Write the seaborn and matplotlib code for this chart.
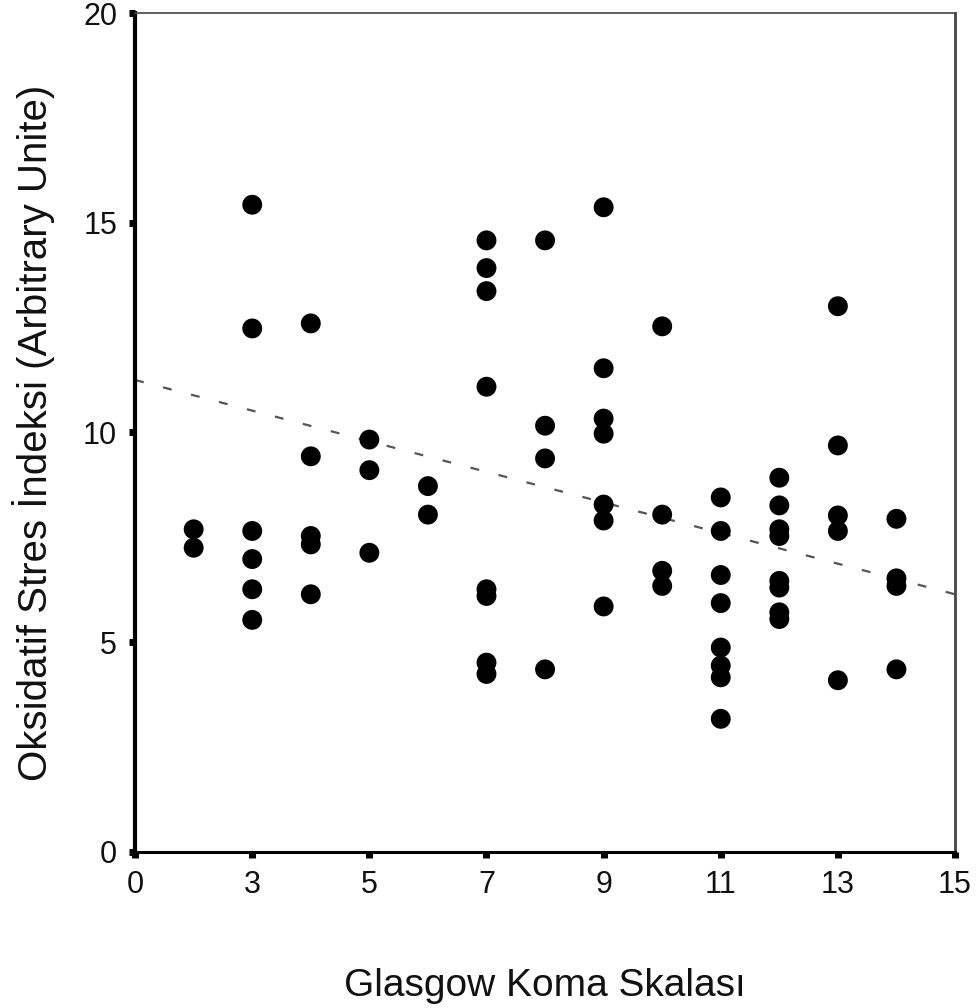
import numpy as np
import pandas as pd
import matplotlib
matplotlib.use('Agg')
import matplotlib.pyplot as plt
import seaborn as sns

# axis position of each patient's column (axis ticks are relabelled below)
gks = ([1] * 2 + [2] * 6 + [3] * 5 + [4] * 3 + [5] * 2 + [6] * 8 + [7] * 4
       + [8] * 7 + [9] * 4 + [10] * 8 + [11] * 8 + [12] * 5 + [13] * 4)

osi = [7.69, 7.25,
       15.43, 12.48, 7.65, 6.98, 6.26, 5.53,
       12.60, 9.43, 7.53, 7.33, 6.14,
       9.83, 9.10, 7.13,
       8.72, 8.04,
       14.58, 13.92, 13.37, 11.09, 6.26, 6.10, 4.51, 4.24,
       14.58, 10.16, 9.38, 4.35,
       15.37, 11.53, 10.33, 9.97, 8.28, 7.90, 5.85,
       12.53, 8.04, 6.70, 6.34,
       8.45, 7.65, 6.60, 5.93, 4.87, 4.44, 4.16, 3.17,
       8.92, 8.26, 7.69, 7.53, 6.46, 6.30, 5.71, 5.55,
       13.01, 9.69, 8.02, 7.65, 4.09,
       7.94, 6.52, 6.34, 4.35]

# fit line as drawn in the original figure
fit_x = [0, 14]
fit_y = [11.25, 6.14]

xtick_values = [0, 2, 4, 6, 8, 10, 12, 14]
xtick_labels = ['0', '3', '5', '7', '9', '11', '13', '15']
ytick_values = [0, 5, 10, 15, 20]

df = pd.DataFrame({'gks': gks, 'osi': osi})

sns.set_theme(style='white')
plt.rcParams['font.family'] = ['Liberation Sans', 'DejaVu Sans']

fig = plt.figure(figsize=(9.79, 10.08), dpi=100)
ax = fig.add_axes([0.138, 0.155, 0.8375, 0.832])

sns.scatterplot(data=df, x='gks', y='osi', color='black', s=205,
                edgecolor='none', ax=ax, zorder=3)
sns.lineplot(x=fit_x, y=fit_y, color='#555555', linewidth=1.6,
             linestyle=(0, (4, 9)), ax=ax, zorder=2)

ax.set_xlim(0, 14)
ax.set_ylim(0, 20)
ax.set_xticks(xtick_values)
ax.set_xticklabels(xtick_labels)
ax.set_yticks(ytick_values)

ax.tick_params(axis='both', direction='out', length=4, width=5,
               color='black', labelsize=22, pad=9, labelcolor='#111111')
ax.tick_params(left=True, bottom=True)

for side in ['left', 'bottom']:
    ax.spines[side].set_color('black')
ax.spines['left'].set_linewidth(3)
ax.spines['bottom'].set_linewidth(2.2)
for side in ['top', 'right']:
    ax.spines[side].set_color('#444444')
ax.spines['top'].set_linewidth(1.2)
ax.spines['right'].set_linewidth(2)

ax.set_xlabel('Glasgow Koma Skalası', fontsize=28, labelpad=49, color='#111111')
ax.set_ylabel('Oksidatif Stres İndeksi (Arbitrary Unite)', fontsize=29,
              labelpad=20, color='#111111')

plt.savefig('out.png', dpi=100)
